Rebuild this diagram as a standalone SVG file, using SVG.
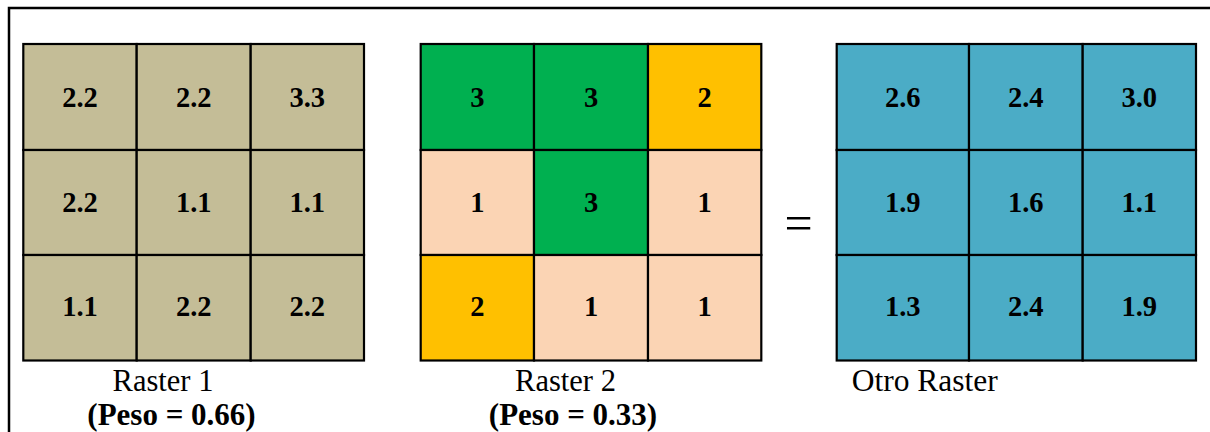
<svg xmlns="http://www.w3.org/2000/svg" width="1210" height="432" viewBox="0 0 1210 432">
<style>
.c{stroke:#000;stroke-width:2.2}
.tan{fill:#C4BD97}
.grn{fill:#00B050}
.org{fill:#FFC000}
.pch{fill:#FBD4B4}
.blu{fill:#4BACC6}
.n{font-family:"Liberation Serif","Times New Roman",serif;font-weight:bold;font-size:28.5px;text-anchor:middle;fill:#000}
.lbl{font-family:"Liberation Serif","Times New Roman",serif;font-size:30.5px;fill:#000}
.pb{font-family:"Liberation Serif","Times New Roman",serif;font-size:31px;font-weight:bold;text-anchor:middle;fill:#000}
</style>
<rect width="1210" height="432" fill="#fff"/>
<path d="M9,432 V8 H1210" fill="none" stroke="#000" stroke-width="2.5"/>

<g id="raster1">
<rect class="c tan" x="23.3" y="44" width="113.4" height="106"/>
<rect class="c tan" x="136.7" y="44" width="114" height="106"/>
<rect class="c tan" x="250.7" y="44" width="113.3" height="106"/>
<rect class="c tan" x="23.3" y="150" width="113.4" height="105"/>
<rect class="c tan" x="136.7" y="150" width="114" height="105"/>
<rect class="c tan" x="250.7" y="150" width="113.3" height="105"/>
<rect class="c tan" x="23.3" y="255" width="113.4" height="105.5"/>
<rect class="c tan" x="136.7" y="255" width="114" height="105.5"/>
<rect class="c tan" x="250.7" y="255" width="113.3" height="105.5"/>
<text class="n" x="80" y="107">2.2</text>
<text class="n" x="193.7" y="107">2.2</text>
<text class="n" x="307.3" y="107">3.3</text>
<text class="n" x="80" y="212">2.2</text>
<text class="n" x="193.7" y="212">1.1</text>
<text class="n" x="307.3" y="212">1.1</text>
<text class="n" x="80" y="316">1.1</text>
<text class="n" x="193.7" y="316">2.2</text>
<text class="n" x="307.3" y="316">2.2</text>
</g>

<g id="raster2">
<rect class="c grn" x="420.7" y="44" width="113.3" height="106"/>
<rect class="c grn" x="534" y="44" width="114" height="106"/>
<rect class="c org" x="648" y="44" width="113.3" height="106"/>
<rect class="c pch" x="420.7" y="150" width="113.3" height="105"/>
<rect class="c grn" x="534" y="150" width="114" height="105"/>
<rect class="c pch" x="648" y="150" width="113.3" height="105"/>
<rect class="c org" x="420.7" y="255" width="113.3" height="105.5"/>
<rect class="c pch" x="534" y="255" width="114" height="105.5"/>
<rect class="c pch" x="648" y="255" width="113.3" height="105.5"/>
<text class="n" x="477.3" y="107">3</text>
<text class="n" x="591" y="107">3</text>
<text class="n" x="704.7" y="107">2</text>
<text class="n" x="477.3" y="212">1</text>
<text class="n" x="591" y="212">3</text>
<text class="n" x="704.7" y="212">1</text>
<text class="n" x="477.3" y="316">2</text>
<text class="n" x="591" y="316">1</text>
<text class="n" x="704.7" y="316">1</text>
</g>

<g id="raster3">
<rect class="c blu" x="836.7" y="44" width="132.3" height="106"/>
<rect class="c blu" x="969" y="44" width="113.7" height="106"/>
<rect class="c blu" x="1082.7" y="44" width="113.3" height="106"/>
<rect class="c blu" x="836.7" y="150" width="132.3" height="105"/>
<rect class="c blu" x="969" y="150" width="113.7" height="105"/>
<rect class="c blu" x="1082.7" y="150" width="113.3" height="105"/>
<rect class="c blu" x="836.7" y="255" width="132.3" height="105.5"/>
<rect class="c blu" x="969" y="255" width="113.7" height="105.5"/>
<rect class="c blu" x="1082.7" y="255" width="113.3" height="105.5"/>
<text class="n" x="902.8" y="107">2.6</text>
<text class="n" x="1025.8" y="107">2.4</text>
<text class="n" x="1139.3" y="107">3.0</text>
<text class="n" x="902.8" y="212">1.9</text>
<text class="n" x="1025.8" y="212">1.6</text>
<text class="n" x="1139.3" y="212">1.1</text>
<text class="n" x="902.8" y="316">1.3</text>
<text class="n" x="1025.8" y="316">2.4</text>
<text class="n" x="1139.3" y="316">1.9</text>
</g>

<g id="equals">
<text x="798.5" y="240" style="font-family:'Liberation Serif','Times New Roman',serif;font-size:50px;text-anchor:middle;fill:#000">=</text>
</g>

<g id="label1">
<text class="lbl" x="163" y="391" text-anchor="middle">Raster 1</text>
<text class="pb" x="171.5" y="425">(Peso = 0.66)</text>
</g>
<g id="label2">
<text class="lbl" x="565.5" y="391" text-anchor="middle">Raster 2</text>
<text class="pb" x="573" y="425">(Peso = 0.33)</text>
</g>
<g id="label3">
<text class="lbl" x="851.7" y="391" style="font-size:31.5px">Otro Raster</text>
</g>
<g id="connectors"/>
</svg>
